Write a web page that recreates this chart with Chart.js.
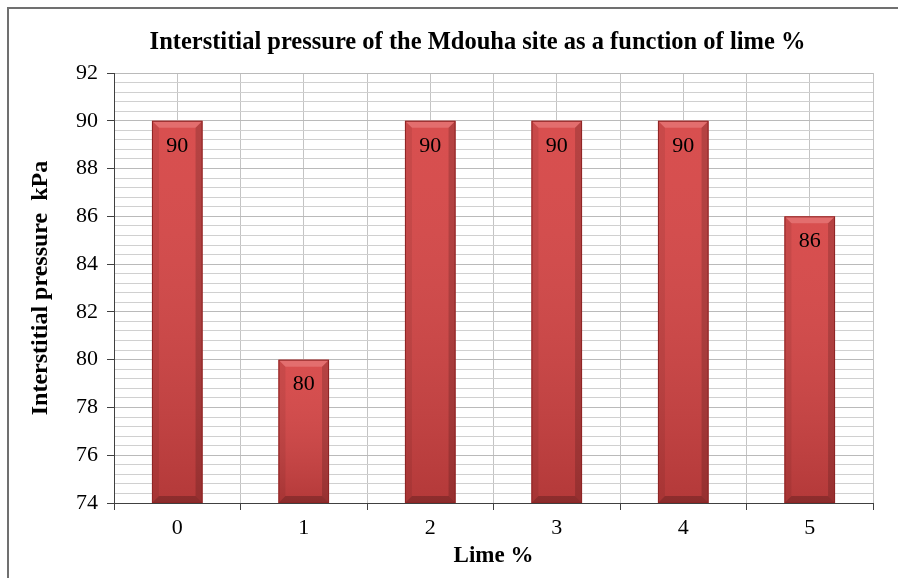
<!DOCTYPE html>
<html>
<head>
<meta charset="utf-8">
<script src="https://cdn.jsdelivr.net/npm/chart.js@4.4.1/dist/chart.umd.min.js"></script>
<style>
  html, body { margin: 0; padding: 0; background: #fff; overflow: hidden; }
  canvas { display: block; }
</style>
</head>
<body>
<canvas id="myChart" width="898" height="578"></canvas>
<script>
// data
const categories = ['0', '1', '2', '3', '4', '5'];
const pressure = [90, 80, 90, 90, 90, 86];
const yMajorTicks = [74, 76, 78, 80, 82, 84, 86, 88, 90, 92];

const titleText = 'Interstitial pressure of the Mdouha site as a function of lime %';
const serif = "'Liberation Serif', 'Times New Roman', serif";

const isMajor = (v) => yMajorTicks.some(t => Math.abs(t - v) < 1e-6);

// chart frame (only left and top edges show, the rest is cut off)
const frame = {
  id: 'frame',
  beforeDraw(chart) {
    const ctx = chart.ctx;
    ctx.save();
    ctx.strokeStyle = '#707070';
    ctx.lineWidth = 2;
    ctx.beginPath();
    ctx.moveTo(8, chart.height + 2);
    ctx.lineTo(8, 8);
    ctx.lineTo(chart.width + 2, 8);
    ctx.stroke();
    ctx.restore();
  }
};

// title, bevel look on the bars and the value labels
const extras = {
  id: 'extras',
  afterDatasetsDraw(chart) {
    const ctx = chart.ctx;
    const area = chart.chartArea;
    const meta = chart.getDatasetMeta(0);
    meta.data.forEach((bar, i) => {
      const w = bar.width;
      const l = bar.x - w / 2, r = bar.x + w / 2;
      const t = bar.y, b = Math.min(bar.base, area.bottom);
      const bv = 7;
      ctx.save();
      // shading down the face
      const g = ctx.createLinearGradient(0, t, 0, b);
      g.addColorStop(0, 'rgba(255,255,255,0.06)');
      g.addColorStop(1, 'rgba(0,0,0,0.16)');
      ctx.fillStyle = g;
      ctx.fillRect(l, t, w, b - t);
      // top bevel
      ctx.beginPath();
      ctx.moveTo(l, t); ctx.lineTo(r, t); ctx.lineTo(r - bv, t + bv); ctx.lineTo(l + bv, t + bv); ctx.closePath();
      ctx.fillStyle = 'rgba(255,190,190,0.28)';
      ctx.fill();
      // left side
      ctx.beginPath();
      ctx.moveTo(l, t); ctx.lineTo(l + bv, t + bv); ctx.lineTo(l + bv, b - bv); ctx.lineTo(l, b); ctx.closePath();
      ctx.fillStyle = 'rgba(0,0,0,0.07)';
      ctx.fill();
      // right side
      ctx.beginPath();
      ctx.moveTo(r, t); ctx.lineTo(r - bv, t + bv); ctx.lineTo(r - bv, b - bv); ctx.lineTo(r, b); ctx.closePath();
      ctx.fillStyle = 'rgba(0,0,0,0.16)';
      ctx.fill();
      // bottom
      ctx.beginPath();
      ctx.moveTo(l, b); ctx.lineTo(l + bv, b - bv); ctx.lineTo(r - bv, b - bv); ctx.lineTo(r, b); ctx.closePath();
      ctx.fillStyle = 'rgba(0,0,0,0.22)';
      ctx.fill();
      ctx.strokeStyle = '#8e2424';
      ctx.lineWidth = 1;
      ctx.strokeRect(l + 0.5, t + 0.5, w - 1, b - t - 1);
      // value label
      ctx.fillStyle = '#000';
      ctx.font = '22px ' + serif;
      ctx.textAlign = 'center';
      ctx.textBaseline = 'middle';
      ctx.fillText(String(pressure[i]), bar.x, t + 25);
      ctx.restore();
    });
  },
  afterDraw(chart) {
    const ctx = chart.ctx;
    ctx.save();
    ctx.fillStyle = '#000';
    ctx.font = 'bold 24.5px ' + serif;
    ctx.textAlign = 'center';
    ctx.textBaseline = 'middle';
    // Excel centres the title on the full frame, which runs past the right edge
    ctx.fillText(titleText, (chart.chartArea.left + chart.chartArea.right) / 2 - 16, 43);
    ctx.restore();
  }
};

new Chart(document.getElementById('myChart'), {
  type: 'bar',
  data: {
    labels: categories,
    datasets: [{
      data: pressure,
      backgroundColor: '#d64444',
      borderWidth: 0,
      barPercentage: 0.4,
      categoryPercentage: 1.0
    }]
  },
  options: {
    responsive: false,
    animation: false,
    layout: { padding: { left: 20, right: 25, top: 73, bottom: 2 } },
    plugins: {
      legend: { display: false },
      tooltip: { enabled: false },
      title: { display: false }
    },
    scales: {
      x: {
        type: 'category',
        offset: true,
        grid: { offset: true, color: '#c4c4c4', tickColor: '#404040', tickLength: 7 },
        border: { color: '#404040', width: 1 },
        ticks: { color: '#000', font: { family: serif, size: 22 }, padding: 5 },
        title: {
          display: true, text: 'Lime %', color: '#000',
          font: { family: serif, size: 23, weight: 'bold' },
          padding: { top: 2, bottom: 6 }
        },
        afterFit(scale) { scale.height = 73; }
      },
      x2: {
        type: 'category',
        position: 'top',
        offset: true,
        grid: { offset: false, color: '#c4c4c4', drawTicks: false },
        border: { display: false },
        ticks: { display: false },
        afterFit(scale) { scale.height = 0; }
      },
      y: {
        min: 74,
        max: 92,
        grid: {
          color: (c) => isMajor(c.tick.value) ? '#bababa' : '#d0d0d0',
          tickColor: (c) => isMajor(c.tick.value) ? '#404040' : 'rgba(0,0,0,0)',
          tickLength: 7
        },
        border: { color: '#404040', width: 1 },
        ticks: {
          stepSize: 0.4,
          autoSkip: false,
          padding: 9,
          color: '#000',
          font: { family: serif, size: 22 },
          callback: (v) => isMajor(v) ? String(Math.round(v)) : ''
        },
        title: {
          display: true, text: 'Interstitial pressure  kPa', color: '#000',
          font: { family: serif, size: 24, weight: 'bold' },
          padding: { top: 6, bottom: 0 }
        },
        afterFit(scale) { scale.width = 94; }
      }
    }
  },
  plugins: [frame, extras]
});
</script>
</body>
</html>
